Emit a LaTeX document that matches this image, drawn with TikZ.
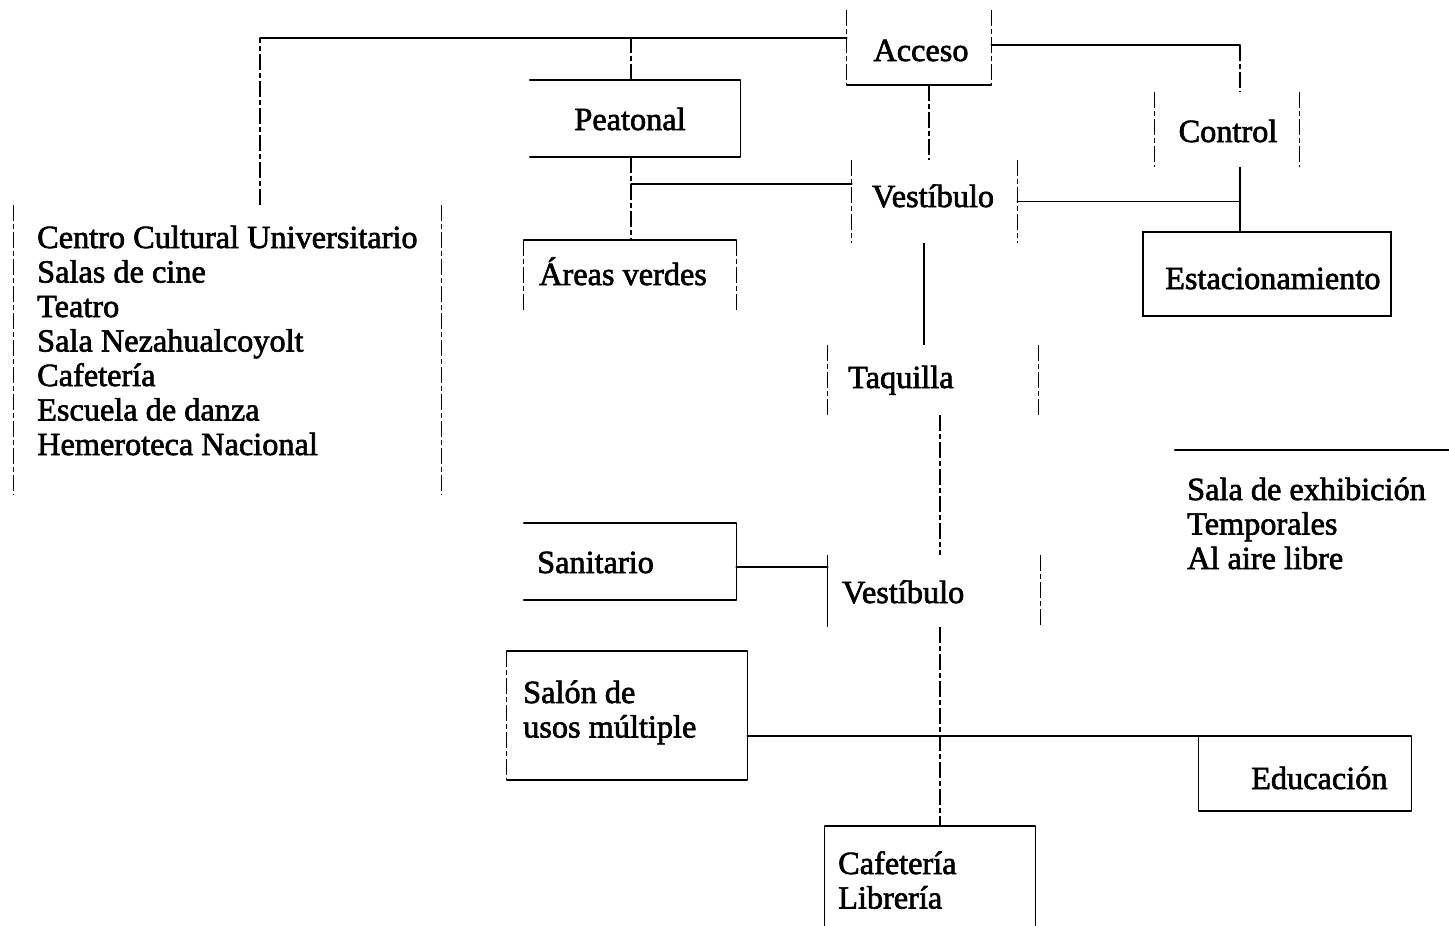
\documentclass[tikz,border=0pt]{standalone}
\usepackage{fontspec}
\setmainfont{Liberation Serif}[FakeBold=2]
\newcommand\mylines[1]{\begin{tabular}[t]{@{}l@{}}#1\end{tabular}}
\begin{document}
\begin{tikzpicture}[x=1pt,y=-1pt,
  box/.style 2 args={draw=none,inner sep=0pt,minimum width=#1,minimum height=#2},
  hl/.style={line width=1.7pt,line cap=round},
  vl/.style={line width=1.1pt},
  brk/.style={line width=1.1pt,dash pattern=on 16pt off 3pt on 5pt off 3pt},
  txt/.style={anchor=base west,inner sep=0pt,font=\fontsize{32.3}{34.5}\selectfont},
  ctxt/.style={txt,anchor=base}]
\useasboundingbox (0,0) rectangle (1449,926);
\fill[white] (0,0) rectangle (1449,926);

% Acceso
\node[box={144pt}{75pt}] (acc) at (919,47.5) {};
\node[ctxt] (acct) at (921,61) {Acceso};
\draw[brk] (acc.north west) -- (acc.south west);
\draw[brk] (acc.north east) -- (acc.south east);
\draw[hl] (acc.south west) -- (acc.south east);

% Peatonal
\node[box={218pt}{77pt}] (pea) at (631,118.5) {};
\node[ctxt] (peat) at (630,130) {Peatonal};
\draw[hl] ([xshift=8pt]pea.north west) -- (pea.north east);
\draw[hl] ([xshift=8pt]pea.south west) -- (pea.south east);
\draw[vl] (pea.north east) -- (pea.south east);

% Centro Cultural
\node[box={427pt}{290pt}] (cen) at (227.5,350) {};
\node[txt] (cent) at (37,248) {\mylines{Centro Cultural Universitario\\Salas de cine\\Teatro\\Sala Nezahualcoyolt\\Cafetería\\Escuela de danza\\Hemeroteca Nacional}};
\draw[brk] (cen.north west) -- (cen.south west);
\draw[brk] (cen.north east) -- (cen.south east);

% top connector
\coordinate (j1) at (260,38);
\draw[brk] (j1 |- cen.north) -- (j1);
\draw[hl] (j1) -- (acc.west |- j1);
\draw[brk] (pea.north) -- (pea.north |- j1);

% Vestibulo 1
\node[box={165pt}{83pt}] (ve1) at (934.5,201.5) {};
\node[ctxt] (ve1t) at (933,207) {Vestíbulo};
\draw[brk] (ve1.north west) -- (ve1.south west);
\draw[brk] (ve1.north east) -- (ve1.south east);
\coordinate (j2) at (929,0);
\draw[brk] (j2 |- acc.south) -- (j2 |- ve1.north);

% Areas verdes
\node[box={212pt}{70pt}] (av) at (630,275) {};
\node[txt] (avt) at (539,285) {Áreas verdes};
\draw[hl] (av.north west) -- (av.north east);
\draw[brk] (av.north west) -- (av.south west);
\draw[brk] (av.north east) -- (av.south east);
\draw[brk] (pea.south) -- (pea.south |- av.north);
\coordinate (j3) at (631,184);
\draw[hl] (j3) -- (ve1.west |- j3);

% Control
\node[box={144pt}{75pt}] (ctl) at (1227,129.5) {};
\node[ctxt] (ctlt) at (1228,142) {Control};
\draw[brk] (ctl.north west) -- (ctl.south west);
\draw[brk] (ctl.north east) -- (ctl.south east);
\coordinate (j4) at (1240,45);
\draw[hl] ([yshift=2.5pt]acc.east) -- (j4);
\draw[brk] (j4) -- (j4 |- ctl.north);

% Estacionamiento
\node[box={248pt}{84pt}] (est) at (1267,274) {};
\node[txt] (estt) at (1165,289) {Estacionamiento};
\draw[hl] (est.north west) rectangle (est.south east);
\draw[vl] (j4 |- ctl.south) -- (j4 |- est.north);
\draw[hl] (ve1.east) -- (ve1.east -| j4);

% Taquilla
\node[box={210pt}{70pt}] (taq) at (933,380) {};
\node[txt] (taqt) at (848,388) {Taquilla};
\draw[brk] (taq.north west) -- (taq.south west);
\draw[brk] (taq.north east) -- (taq.south east);
\coordinate (j5) at (924,0);
\draw[vl] (j5 |- ve1.south) -- (j5 |- taq.north);

% Vestibulo 2
\node[box={212pt}{72pt}] (ve2) at (934,591) {};
\node[txt] (ve2t) at (842,603) {Vestíbulo};
\draw[vl] (ve2.north west) -- (ve2.south west);
\draw[brk] (ve2.north east) -- (ve2.south east);
\coordinate (j6) at (940,0);
\draw[brk] (j6 |- taq.south) -- (j6 |- ve2.north);

% Sanitario
\node[box={212pt}{77pt}] (san) at (630,561.5) {};
\node[txt] (sant) at (537,573) {Sanitario};
\draw[hl] (san.north west) -- (san.north east);
\draw[hl] (san.south west) -- (san.south east);
\draw[vl] (san.north east) -- (san.south east);
\coordinate (j7) at (0,567);
\draw[hl] (san.east |- j7) -- (ve2.west |- j7);

% Salon
\node[box={240pt}{129pt}] (sal) at (627,715.5) {};
\node[txt] (salt) at (523,703) {\mylines{Salón de\\usos múltiple}};
\draw[hl] (sal.north west) -- (sal.north east);
\draw[hl] (sal.south west) -- (sal.south east);
\draw[brk] (sal.north west) -- (sal.south west);
\draw[vl] (sal.north east) -- (sal.south east);

% Educacion
\node[box={212pt}{75pt}] (edu) at (1305,773.5) {};
\node[txt] (edut) at (1251,789) {Educación};
\draw[hl] (edu.north west) -- (edu.north east);
\draw[hl] (edu.south west) -- (edu.south east);
\draw[vl] (edu.north west) -- (edu.south west);
\draw[vl] (edu.north east) -- (edu.south east);
\draw[hl] (sal.east |- edu.north) -- (edu.north west);

% Cafeteria
\node[box={210pt}{100pt}] (caf) at (930,876) {};
\node[txt] (caft) at (838,874) {\mylines{Cafetería\\Librería}};
\draw[hl] (caf.north west) -- (caf.north east);
\draw[vl] (caf.north west) -- (caf.south west);
\draw[vl] (caf.north east) -- (caf.south east);
\draw[brk] (j6 |- ve2.south) -- (j6 |- caf.north);

% Sala de exhibicion
\node[box={274pt}{130pt}] (sex) at (1312,515) {};
\node[txt] (sext) at (1187,500) {\mylines{Sala de exhibición\\Temporales\\Al aire libre}};
\draw[hl] (sex.north west) -- (sex.north east);
\end{tikzpicture}
\end{document}
